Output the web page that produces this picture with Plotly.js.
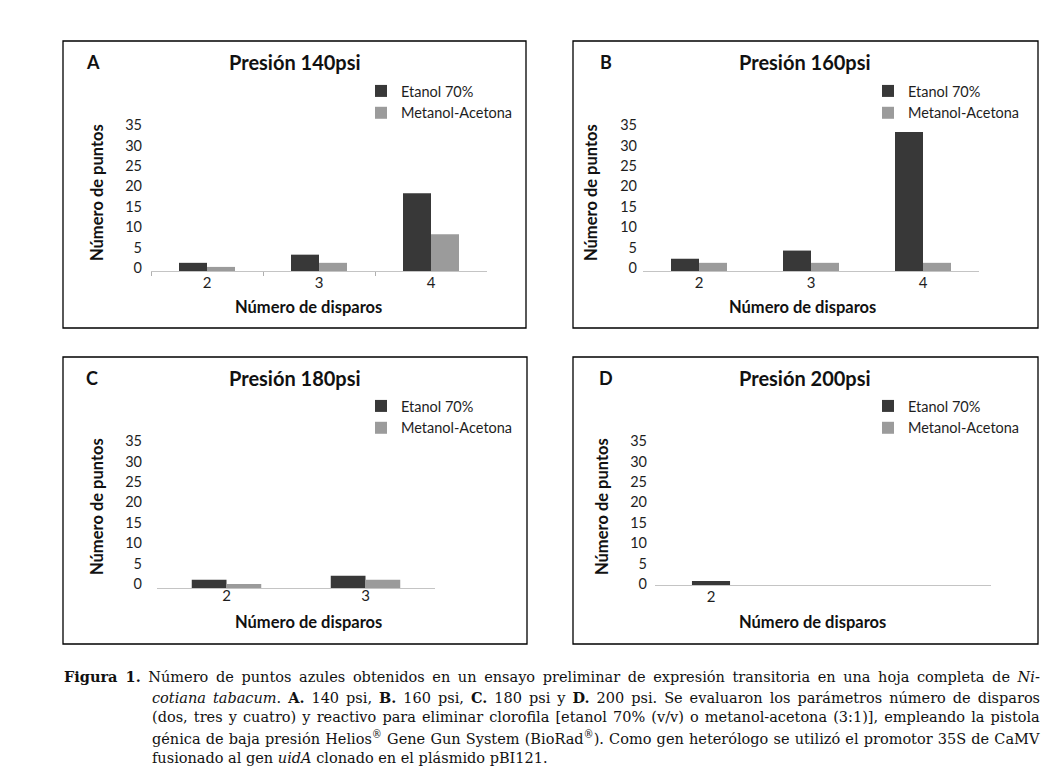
<!DOCTYPE html>
<html>
<head>
<meta charset="utf-8">
<script src="https://cdn.plot.ly/plotly-3.0.1.min.js"></script>
<style>
  html, body { margin: 0; padding: 0; background: #ffffff; }
  #chart { width: 1052px; height: 774px; }
</style>
</head>
<body>
<div id="chart"></div>
<script>
// ---------------- data ----------------
const seriesNames = ['Etanol 70%', 'Metanol-Acetona'];
const yTicks = [0, 5, 10, 15, 20, 25, 30, 35];

const categoriesA = ['2', '3', '4'];
const etanolA = [2, 4, 19];
const metanolA = [1, 2, 9];

const categoriesB = ['2', '3', '4'];
const etanolB = [3, 5, 34];
const metanolB = [2, 2, 2];

const categoriesC = ['2', '3'];
const etanolC = [2, 3];
const metanolC = [1, 2];

const categoriesD = ['2', '3', '4'];
const tickValsD = ['2'];
const tickLabelsD = ['2'];
const etanolD = [1, null, null];
const metanolD = [0, null, null];

const panelTitles = ['Presión 140psi', 'Presión 160psi', 'Presión 180psi', 'Presión 200psi'];
const panelLetters = ['A', 'B', 'C', 'D'];
const yTitle = 'Número de puntos';
const xTitle = 'Número de disparos';

const captionLines = [
  '<b>Figura 1.</b> Número de puntos azules obtenidos en un ensayo preliminar de expresión transitoria en una hoja completa de <i>Ni-</i>',
  '<i>cotiana tabacum</i>. <b>A.</b> 140 psi, <b>B.</b> 160 psi, <b>C.</b> 180 psi y <b>D.</b> 200 psi. Se evaluaron los parámetros número de disparos',
  '(dos, tres y cuatro) y reactivo para eliminar clorofila [etanol 70% (v/v) o metanol-acetona (3:1)], empleando la pistola',
  'génica de baja presión Helios<sup>®</sup> Gene Gun System (BioRad<sup>®</sup>). Como gen heterólogo se utilizó el promotor 35S de CaMV',
  'fusionado al gen <i>uidA</i> clonado en el plásmido pBI121.'
];

// ---------------- helpers (pixel -> paper) ----------------
const W = 1052, H = 774;
const px = x => x / W;
const py = y => 1 - y / H;

const DARK = '#383838';
const LIGHT = '#9b9b9b';
const TXT = '#1e1e1e';
const FONT = 'Lato, "Open Sans", sans-serif';

function barTrace(name, cats, vals, color, xa, ya, legend, extra) {
  return Object.assign({
    type: 'bar', name: name, x: cats, y: vals,
    marker: { color: color, line: { width: 0 } },
    xaxis: xa, yaxis: ya, legend: legend, hoverinfo: 'skip'
  }, extra || {});
}

const data = [
  barTrace(seriesNames[0], categoriesA, etanolA, DARK, 'x', 'y', 'legend'),
  barTrace(seriesNames[1], categoriesA, metanolA, LIGHT, 'x', 'y', 'legend'),
  barTrace(seriesNames[0], categoriesB, etanolB, DARK, 'x2', 'y2', 'legend2'),
  barTrace(seriesNames[1], categoriesB, metanolB, LIGHT, 'x2', 'y2', 'legend2'),
  barTrace(seriesNames[0], categoriesC, etanolC, DARK, 'x3', 'y3', 'legend3'),
  barTrace(seriesNames[1], categoriesC, metanolC, LIGHT, 'x3', 'y3', 'legend3'),
  barTrace(seriesNames[0], categoriesD, etanolD, DARK, 'x4', 'y4', 'legend4', { offsetgroup: 'd', width: 0.34 }),
  barTrace(seriesNames[1], categoriesD, metanolD, LIGHT, 'x4', 'y4', 'legend4', { offsetgroup: 'd', width: 0.34 })
];

function xaxisCfg(left, right, anchor, extra) {
  return Object.assign({
    domain: [px(left), px(right)], anchor: anchor, type: 'category',
    showline: true, linecolor: '#c4c4c4', linewidth: 1,
    showgrid: false, zeroline: false, ticks: '',
    tickfont: { family: FONT, size: 15, color: TXT },
    fixedrange: true
  }, extra || {});
}
function yaxisCfg(bottom, top, anchor, extra) {
  return Object.assign({
    domain: [py(bottom), py(top)], anchor: anchor,
    range: [0, 35], tickvals: yTicks, ticktext: yTicks.map(String),
    showline: false, showgrid: false, zeroline: false, ticks: '',
    tickfont: { family: FONT, size: 14.5, color: TXT },
    fixedrange: true
  }, extra || {});
}

function legendCfg(left, top) {
  return {
    x: px(left), y: py(top), xanchor: 'left', yanchor: 'top',
    xref: 'paper', yref: 'paper',
    bgcolor: 'rgba(0,0,0,0)', borderwidth: 0,
    font: { family: FONT, size: 14.5, color: TXT },
    itemclick: false, itemdoubleclick: false, tracegroupgap: 0
  };
}

const annotations = [];
function txt(text, x, y, size, opts) {
  annotations.push(Object.assign({
    text: text, x: px(x), y: py(y), xref: 'paper', yref: 'paper',
    showarrow: false, xanchor: 'center', yanchor: 'middle',
    font: { family: FONT, size: size, color: '#111111' }
  }, opts || {}));
}

// panel titles and letters
const titleCenters = [[295, 62], [805, 62], [295, 378], [805, 378]];
const letterPos = [[93, 62], [606, 62], [92, 378], [606, 378]];
panelTitles.forEach((t, i) => txt('<b>' + t + '</b>', titleCenters[i][0], titleCenters[i][1], 20));
panelLetters.forEach((t, i) => txt('<b>' + t + '</b>', letterPos[i][0], letterPos[i][1], 18));

// axis titles
const yTitlePos = [[97, 193], [591, 193], [97, 507], [602, 507]];
const xTitlePos = [[308, 307], [802, 307], [308, 622], [812, 622]];
yTitlePos.forEach(p => txt('<b>' + yTitle + '</b>', p[0], p[1], 16.5, { textangle: -90 }));
xTitlePos.forEach(p => txt('<b>' + xTitle + '</b>', p[0], p[1], 16.5));

// caption
const captionStartIndex = annotations.length;
const capY = [676, 697, 717, 738, 758];
captionLines.forEach((l, i) => {
  txt(l, i === 0 ? 62 : 150, capY[i], 14.5, {
    xanchor: 'left', align: 'left',
    font: { family: '"DejaVu Serif", "Liberation Serif", serif', size: 14.5, color: '#111111' }
  });
});

// panel frames
const frames = [[63, 41, 526, 328], [573, 41, 1038, 328], [63, 357, 527, 644], [573, 357, 1038, 644]];
const shapes = frames.map(f => ({
  type: 'rect', xref: 'paper', yref: 'paper',
  x0: px(f[0]), x1: px(f[2]), y0: py(f[3]), y1: py(f[1]),
  line: { color: '#000000', width: 1.3 }, fillcolor: 'rgba(0,0,0,0)', layer: 'above'
}));

const layout = {
  width: W, height: H,
  margin: { l: 0, r: 0, t: 0, b: 0, pad: 0 },
  paper_bgcolor: '#ffffff', plot_bgcolor: 'rgba(0,0,0,0)',
  font: { family: FONT, color: TXT },
  barmode: 'group', bargap: 0.5, bargroupgap: 0,
  showlegend: true,
  xaxis: xaxisCfg(151, 487, 'y', { ticks: 'outside', tickson: 'boundaries', ticklen: 4, tickcolor: '#b0b0b0', ticklabelstandoff: -2 }),
  yaxis: yaxisCfg(271, 128, 'x', { ticklabelstandoff: 8, ticklabelshift: -3 }),
  xaxis2: xaxisCfg(643, 979, 'y2', { ticklabelstandoff: -2 }),
  yaxis2: yaxisCfg(271, 128, 'x2', { ticklabelstandoff: 5, ticklabelshift: -3 }),
  xaxis3: xaxisCfg(157, 435, 'y3', { ticklabelstandoff: -6 }),
  yaxis3: yaxisCfg(588, 445, 'x3', { ticklabelstandoff: 14, ticklabelshift: -4 }),
  xaxis4: xaxisCfg(655, 991, 'y4', { tickvals: tickValsD, ticktext: tickLabelsD, range: [-0.5, 2.5], ticklabelstandoff: -2 }),
  yaxis4: yaxisCfg(585, 442, 'x4', { ticklabelstandoff: 7, ticklabelshift: -1 }),
  legend: legendCfg(361, 75),
  legend2: legendCfg(868, 75),
  legend3: legendCfg(361, 390),
  legend4: legendCfg(868, 390),
  annotations: annotations,
  shapes: shapes
};

Plotly.newPlot('chart', data, layout, { staticPlot: true, displayModeBar: false }).then(gd => {
  // drop empty legend-title placeholders
  gd.querySelectorAll('text.legendtitletext').forEach(t => {
    if (!t.textContent.trim()) t.remove();
  });
  // justify caption lines (all but the last) to the right edge
  const rightEdge = 1040;
  const groups = gd.querySelectorAll('g.annotation');
  const svgRect = gd.querySelector('svg.main-svg').getBoundingClientRect();
  for (let i = 0; i < captionLines.length - 1; i++) {
    const g = Array.from(groups).find(el => +el.getAttribute('data-index') === captionStartIndex + i);
    if (!g) continue;
    const t = g.querySelector('text.annotation-text');
    if (!t) continue;
    const r = t.getBoundingClientRect();
    const spaces = (t.textContent.match(/ /g) || []).length;
    if (!spaces) continue;
    const extra = (rightEdge - (r.right - svgRect.left)) / spaces;
    t.style.wordSpacing = extra.toFixed(2) + 'px';
  }
});
</script>
</body>
</html>
